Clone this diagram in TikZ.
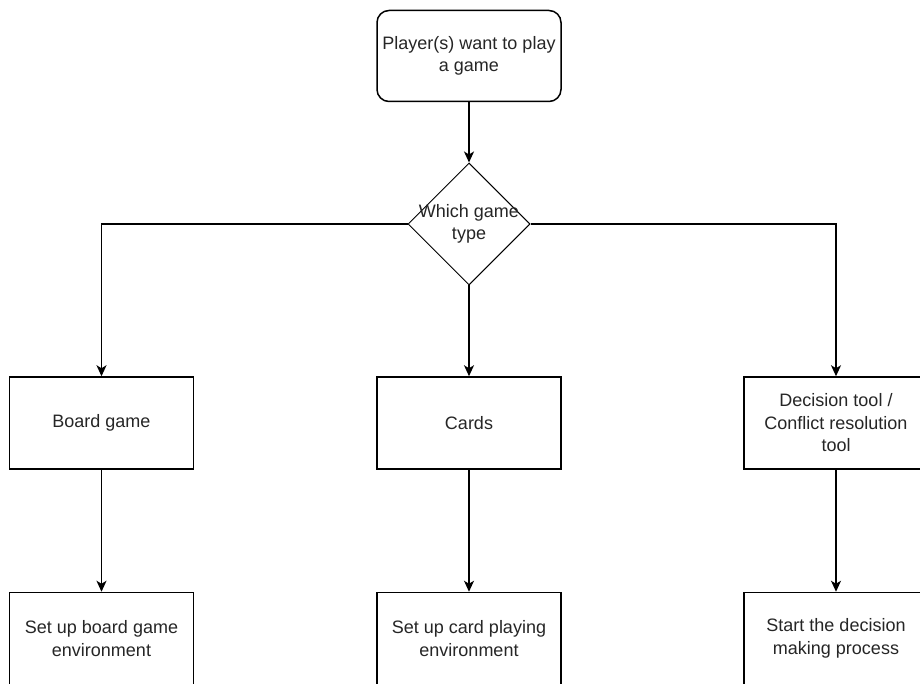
\documentclass[tikz,border=0pt]{standalone}
\usepackage{fontspec}
\setmainfont{Liberation Sans}
\usetikzlibrary{shapes.geometric,arrows.meta}

\tikzset{
  flowtext/.style={font=\fontsize{18}{22.5}\selectfont, align=center, text=black!85},
  procbox/.style={flowtext, draw=black, line width=1.5pt, rectangle,
    minimum width=184pt, minimum height=92pt, inner sep=0pt},
  startbox/.style={procbox, rounded corners=12pt, minimum height=91pt},
  choice/.style={draw=black, line width=1pt, diamond, aspect=1,
    minimum width=122pt, minimum height=122pt, inner sep=0pt},
  flowarrow/.style={draw=black, line width=1.5pt,
    -{Stealth[length=11pt,width=10pt,inset=3pt]}},
}

\begin{document}
\begin{tikzpicture}[x=1pt,y=-1pt]
  \useasboundingbox (0,0) rectangle (920,684);
  \fill[white] (0,0) rectangle (920,684);
  \clip (0,0) rectangle (920,684);

  % start and decision
  \node[startbox] (start) at (469,56) {Player(s) want to play\\a game};
  \node[choice, label={[flowtext, inner sep=0pt]center:Which game\\type}]
    (type) at (469,224) {};

  % the three kinds of game
  \node[procbox] (board) at (101.5,423) {Board game};
  \node[procbox] (cards) at (469,423) {Cards};
  \node[procbox] (decide) at (836,423) {Decision tool /\\Conflict resolution\\tool};

  % what each kind leads to
  \node[procbox] (boardenv) at (101.5,638.5) {Set up board game\\environment};
  \node[procbox] (cardsenv) at (469,638.5) {Set up card playing\\environment};
  \node[procbox] (decideproc) at (836,638.5) {Start the decision\\making process};

  % connectors
  \draw[flowarrow] (start) -- (type);
  \draw[flowarrow] (type.west) -| (board.north);
  \draw[flowarrow] (type.south) -- (cards.north);
  \draw[flowarrow] (type.east) -| (decide.north);
  \draw[flowarrow] (board) -- (boardenv);
  \draw[flowarrow] (cards) -- (cardsenv);
  \draw[flowarrow] (decide) -- (decideproc);
\end{tikzpicture}
\end{document}
